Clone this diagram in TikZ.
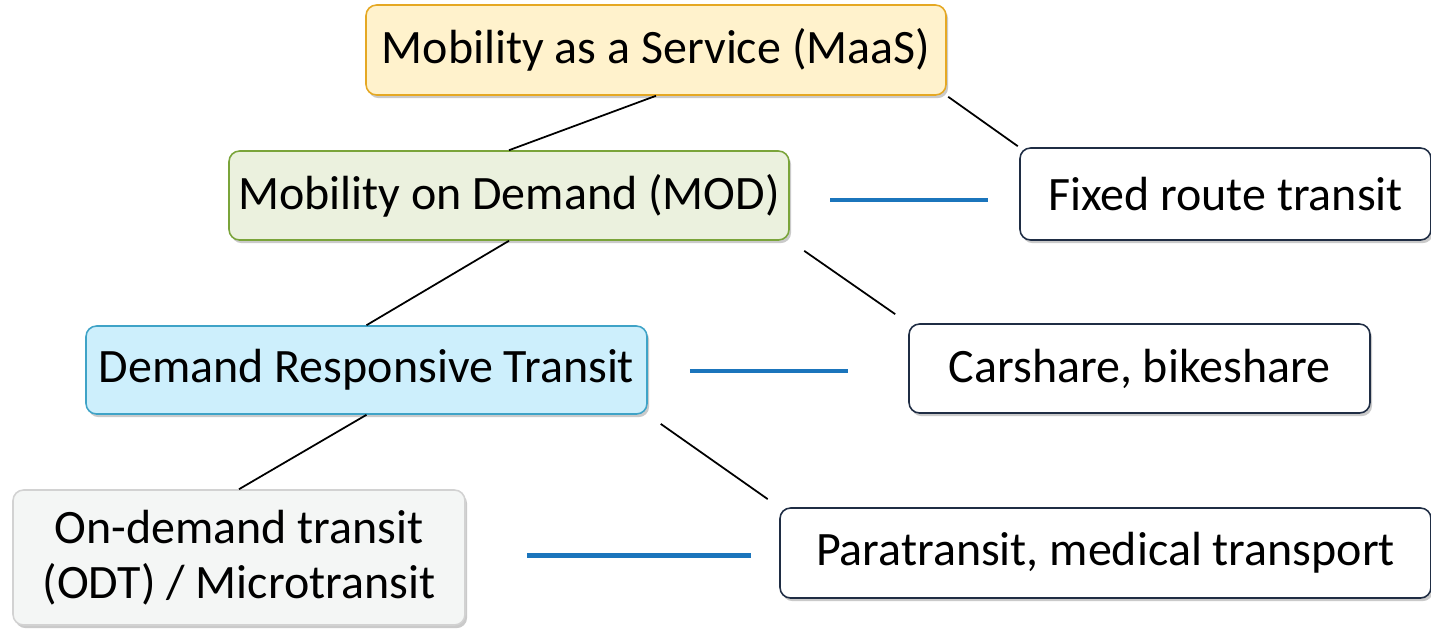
\documentclass[tikz,border=0pt]{standalone}
\usepackage{fontspec}
\setmainfont{Carlito}
\usetikzlibrary{positioning, shadows}
\definecolor{maasfill}{RGB}{255, 242, 204}
\definecolor{maasdraw}{RGB}{229, 168, 35}
\definecolor{modfill}{RGB}{235, 241, 222}
\definecolor{moddraw}{RGB}{122, 164, 58}
\definecolor{drtfill}{RGB}{205, 239, 252}
\definecolor{drtdraw}{RGB}{63, 163, 199}
\definecolor{odtfill}{RGB}{244, 246, 245}
\definecolor{odtdraw}{RGB}{210, 210, 210}
\definecolor{navy}{RGB}{31, 45, 68}
\definecolor{linkblue}{RGB}{27, 117, 188}

\begin{document}
\begin{tikzpicture}[
    x=0.02cm, y=-0.02cm,
    % --- stili dei riquadri ---
    box/.style={rectangle, rounded corners=6pt, line width=0.9pt, inner sep=0,
        align=center, font=\fontsize{27.3}{31.5}\selectfont,
        drop shadow={shadow xshift=1.2pt, shadow yshift=-1.8pt, opacity=0.35, fill=black!60}},
    maas_box/.style={box, fill=maasfill, draw=maasdraw},
    mod_box/.style={box, fill=modfill, draw=moddraw},
    drt_box/.style={box, fill=drtfill, draw=drtdraw},
    odt_box/.style={box, fill=odtfill, draw=odtdraw},
    mode_box/.style={box, fill=white, draw=navy},
    tree_line/.style={line width=1pt, black},
    link_line/.style={line width=2.6pt, linkblue}
]

% 1. Area del disegno
\useasboundingbox (0, 0) rectangle (1431, 629);

% 2. Livelli della gerarchia (a sinistra)
\node (maas) [maas_box, minimum width=580*0.02cm, minimum height=90*0.02cm] at (656, 50) {Mobility as a Service (MaaS)};
\node (mod) [mod_box, minimum width=560*0.02cm, minimum height=89*0.02cm] at (509, 195.5) {Mobility on Demand (MOD)};
\node (drt) [drt_box, minimum width=561*0.02cm, minimum height=88*0.02cm] at (366.5, 370) {Demand Responsive Transit};
\node (odt) [odt_box, minimum width=452*0.02cm, minimum height=135*0.02cm] at (239, 557.5) {On-demand transit\\(ODT) / Microtransit};

% 3. Servizi (a destra)
\node (fixed) [mode_box, minimum width=411*0.02cm, minimum height=92*0.02cm] at (1225.5, 194) {Fixed route transit};
\node (share) [mode_box, minimum width=461*0.02cm, minimum height=89*0.02cm] at (1139.5, 368.5) {Carshare, bikeshare};
\node (para) [mode_box, minimum width=651*0.02cm, minimum height=90*0.02cm] at (1105.5, 553) {Paratransit, medical transport};

% 4. Collegamenti fra i livelli
\draw[tree_line] (maas.south) -- (mod.north);
\draw[tree_line] (mod.south) -- (drt.north);
\draw[tree_line] (drt.south) -- (odt.north);

% 5. Collegamenti verso i servizi
\draw[tree_line, shorten <=1pt, shorten >=1pt] (maas.south east) -- (fixed.north west);
\draw[tree_line, shorten <=10pt, shorten >=9pt] (mod.south east) -- (share.north west);
\draw[tree_line, shorten <=9pt, shorten >=8pt] (drt.south east) -- (para.north west);

% 6. Linee blu fra livello e servizio
\draw[link_line, shorten <=23pt, shorten >=18pt] ([yshift=-2.5pt]mod.east) -- ([yshift=-2.5pt]mod.east -| fixed.west);
\draw[link_line, shorten <=24pt, shorten >=34pt] ([yshift=-0.5pt]drt.east) -- ([yshift=-0.5pt]drt.east -| share.west);
\draw[link_line, shorten <=35pt, shorten >=16pt] ([yshift=1.3pt]odt.east) -- ([yshift=1.3pt]odt.east -| para.west);
\end{tikzpicture}
\end{document}
